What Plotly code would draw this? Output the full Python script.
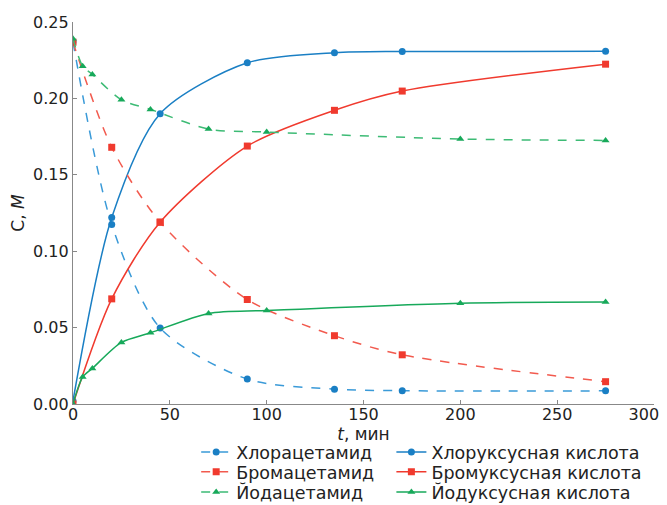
import plotly.graph_objects as go

# time points (min)
t_cl = [0, 20, 45, 90, 135, 170, 275]
t_br = [0, 20, 45, 90, 135, 170, 275]
t_io = [0, 5, 10, 25, 40, 70, 100, 200, 275]

# concentrations (M)
cl_amide = [0.237, 0.1175, 0.0497, 0.0163, 0.0097, 0.0087, 0.0086]
cl_acid = [0.002, 0.122, 0.190, 0.2233, 0.2299, 0.2307, 0.2308]
br_amide = [0.2368, 0.168, 0.119, 0.0684, 0.0447, 0.0322, 0.0146]
br_acid = [0.0, 0.0688, 0.119, 0.1688, 0.1922, 0.2048, 0.2224]
io_amide = [0.239, 0.2211, 0.2157, 0.1991, 0.1928, 0.1799, 0.178, 0.1734, 0.1725]
io_acid = [0.0, 0.0176, 0.0233, 0.0403, 0.0466, 0.0593, 0.0612, 0.066, 0.0667]

# x tick labels (the last one padded so it stays inside the page)
x_tickvals = [0, 50, 100, 150, 200, 250, 300]
x_ticktext = ["0", "50", "100", "150", "200", "250", "300\u00a0\u00a0\u00a0\u00a0"]

names = ["Хлорацетамид", "Хлоруксусная кислота",
         "Бромацетамид", "Бромуксусная кислота",
         "Йодацетамид", "Йодуксусная кислота"]

blue = "#1a7fc4"
blue_l = "#3a9ad8"
red = "#f03a2e"
red_l = "#f25a4e"
green = "#17a95a"
green_l = "#3dbb75"

series = [
    (t_cl, cl_amide, names[0], blue_l, blue, "dash", "circle"),
    (t_cl, cl_acid, names[1], blue, blue, "solid", "circle"),
    (t_br, br_amide, names[2], red_l, red, "dash", "square"),
    (t_br, br_acid, names[3], red, red, "solid", "square"),
    (t_io, io_amide, names[4], green_l, green, "dash", "triangle-up"),
    (t_io, io_acid, names[5], green, green, "solid", "triangle-up"),
]

font = "DejaVu Sans"
col_x = [0.212, 0.548]
row_y = [-0.1257, -0.178, -0.2304]

fig = go.Figure()
layout_legends = {}
for i, (x, y, nm, lc, mc, dash, sym) in enumerate(series):
    key = "legend" if i == 0 else f"legend{i + 1}"
    fig.add_trace(go.Scatter(
        x=x, y=y, name=nm, mode="lines+markers", legend=key,
        line=dict(color=lc, width=1.5, dash=dash, shape="spline", smoothing=0.8),
        marker=dict(color=mc, symbol=sym, size=7),
    ))
    layout_legends[key] = dict(
        orientation="v", x=col_x[i % 2], y=row_y[i // 2],
        xanchor="left", yanchor="middle",
        font=dict(family=font, size=17.5, color="#222"),
        itemwidth=30, bgcolor="rgba(0,0,0,0)", borderwidth=0,
    )

fig.update_layout(
    width=659, height=497,
    margin=dict(l=65, r=13, t=14, b=101, autoexpand=False),
    paper_bgcolor="white", plot_bgcolor="white",
    font=dict(family=font, size=16, color="#222"),
    showlegend=True,
    xaxis=dict(
        range=[0, 300], tickmode="array", tickvals=x_tickvals, ticktext=x_ticktext,
        showgrid=False, zeroline=False,
        showline=True, linecolor="#888", linewidth=1.2,
        ticks="inside", ticklen=4, tickcolor="#888",
        ticklabelstandoff=-4, ticklabeloverflow="allow",
        title=dict(text="<i>t</i>, мин", standoff=0, font=dict(size=17)),
        tickfont=dict(size=16),
    ),
    yaxis=dict(
        range=[0, 0.25], dtick=0.05, tickformat=".2f", showgrid=False, zeroline=False,
        showline=True, linecolor="#888", linewidth=1.2,
        ticks="inside", ticklen=4, tickcolor="#888",
        ticklabeloverflow="allow",
        title=dict(text="C, <i>M</i>", standoff=6, font=dict(size=17)),
        tickfont=dict(size=16),
    ),
    **layout_legends,
)

fig.write_html("out.html")
